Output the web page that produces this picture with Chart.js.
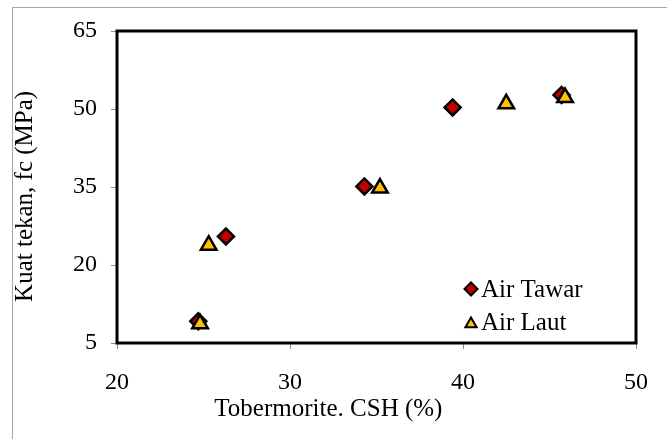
<!DOCTYPE html>
<html>
<head>
<meta charset="utf-8">
<script src="https://cdn.jsdelivr.net/npm/chart.js@4/dist/chart.umd.min.js"></script>
<style>
    body { margin: 0; background: #fff; overflow: hidden; }
    #wrap { position: relative; width: 667px; height: 439px; }
    #frame { position: absolute; left: 12px; top: 7px; width: 700px; height: 500px; border: 1px solid #a6a6a6; }
    #grafik { position: absolute; left: 0; top: 0; }
</style>
</head>
<body>
<div id="wrap">
    <div id="frame"></div>
    <canvas id="grafik" width="667" height="439"></canvas>
</div>
<script>
// data
const tawarX = [24.7, 26.3, 34.3, 39.4, 45.7];
const tawarY = [9.2, 25.5, 35.1, 50.3, 52.7];
const lautX = [24.8, 25.3, 35.2, 42.5, 45.9];
const lautY = [8.7, 23.8, 34.8, 51.0, 52.2];
const xTicks = [20, 30, 40, 50];
const yTicks = [5, 20, 35, 50, 65];
const seriesNames = ['Air Tawar', 'Air Laut'];

const toPoints = (xs, ys) => xs.map((x, i) => ({ x: x, y: ys[i] }));
const fontSerif = "'Liberation Serif', 'Times New Roman', serif";

Chart.defaults.font.family = fontSerif;
Chart.defaults.color = '#000';

// kotak tebal di sekeliling area plot + legenda di dalam
const plotExtras = {
    id: 'plotExtras',
    beforeDatasetsDraw(chart) {
        const { ctx, chartArea: a } = chart;
        ctx.save();
        ctx.strokeStyle = '#000';
        ctx.lineWidth = 3;
        ctx.strokeRect(a.left, a.top, a.right - a.left, a.bottom - a.top);
        ctx.restore();
    },
    afterDraw(chart) {
        const { ctx, chartArea: a } = chart;
        const rows = [
            { y: a.bottom - 54, style: 'rectRot', fill: '#C00000' },
            { y: a.bottom - 21, style: 'triangle', fill: '#FFC000' }
        ];
        ctx.save();
        rows.forEach((r, i) => {
            const mx = a.right - 165;
            ctx.fillStyle = r.fill;
            ctx.strokeStyle = '#000';
            ctx.lineWidth = 2;
            Chart.helpers.drawPoint(ctx, { pointStyle: r.style, radius: 6.5, rotation: 0, borderWidth: 2 }, mx, r.y + (r.style === 'triangle' ? 2 : 0));
            ctx.fillStyle = '#000';
            ctx.font = '25px ' + fontSerif;
            ctx.textBaseline = 'middle';
            ctx.textAlign = 'left';
            ctx.fillText(seriesNames[i], mx + 10, r.y + 1);
        });
        ctx.restore();
    }
};

new Chart(document.getElementById('grafik').getContext('2d'), {
    type: 'scatter',
    data: {
        datasets: [{
            label: seriesNames[0],
            data: toPoints(tawarX, tawarY),
            pointStyle: 'rectRot',
            pointRadius: 8,
            pointHoverRadius: 8,
            pointBackgroundColor: '#C00000',
            pointBorderColor: '#000',
            pointBorderWidth: 2.5,
            order: 1
        }, {
            label: seriesNames[1],
            data: toPoints(lautX, lautY),
            pointStyle: 'triangle',
            pointRadius: 9,
            pointHoverRadius: 9,
            pointBackgroundColor: '#FFC000',
            pointBorderColor: '#000',
            pointBorderWidth: 2.5,
            order: 0
        }]
    },
    options: {
        responsive: false,
        animation: false,
        layout: {
            padding: { top: 31, right: 29, left: 0, bottom: 0 }
        },
        plugins: {
            legend: { display: false },
            tooltip: { enabled: false },
            title: {
                display: true,
                position: 'bottom',
                text: '   Tobermorite. CSH (%)',
                font: { size: 25, weight: 'normal' },
                color: '#000',
                padding: { top: 0, bottom: 15 }
            }
        },
        scales: {
            x: {
                type: 'linear',
                min: 20,
                max: 50,
                afterFit: (s) => { s.height = 51; },
                afterBuildTicks: (s) => { s.ticks = xTicks.map(v => ({ value: v })); },
                border: { display: false },
                grid: { drawOnChartArea: false, tickLength: 6, color: '#8c8c8c' },
                ticks: { padding: 19, font: { size: 24 }, color: '#000' }
            },
            y: {
                type: 'linear',
                min: 5,
                max: 65,
                afterFit: (s) => { s.width = 117; },
                afterBuildTicks: (s) => { s.ticks = yTicks.map(v => ({ value: v })); },
                border: { display: false },
                grid: { drawOnChartArea: false, tickLength: 6, color: '#8c8c8c' },
                ticks: { padding: 14, font: { size: 24 }, color: '#000' },
                title: {
                    display: true,
                    text: 'Kuat tekan, fc (MPa)   ',
                    font: { size: 25 },
                    color: '#000',
                    padding: { top: 10, bottom: 0 }
                }
            }
        }
    },
    plugins: [plotExtras]
});
</script>
</body>
</html>
